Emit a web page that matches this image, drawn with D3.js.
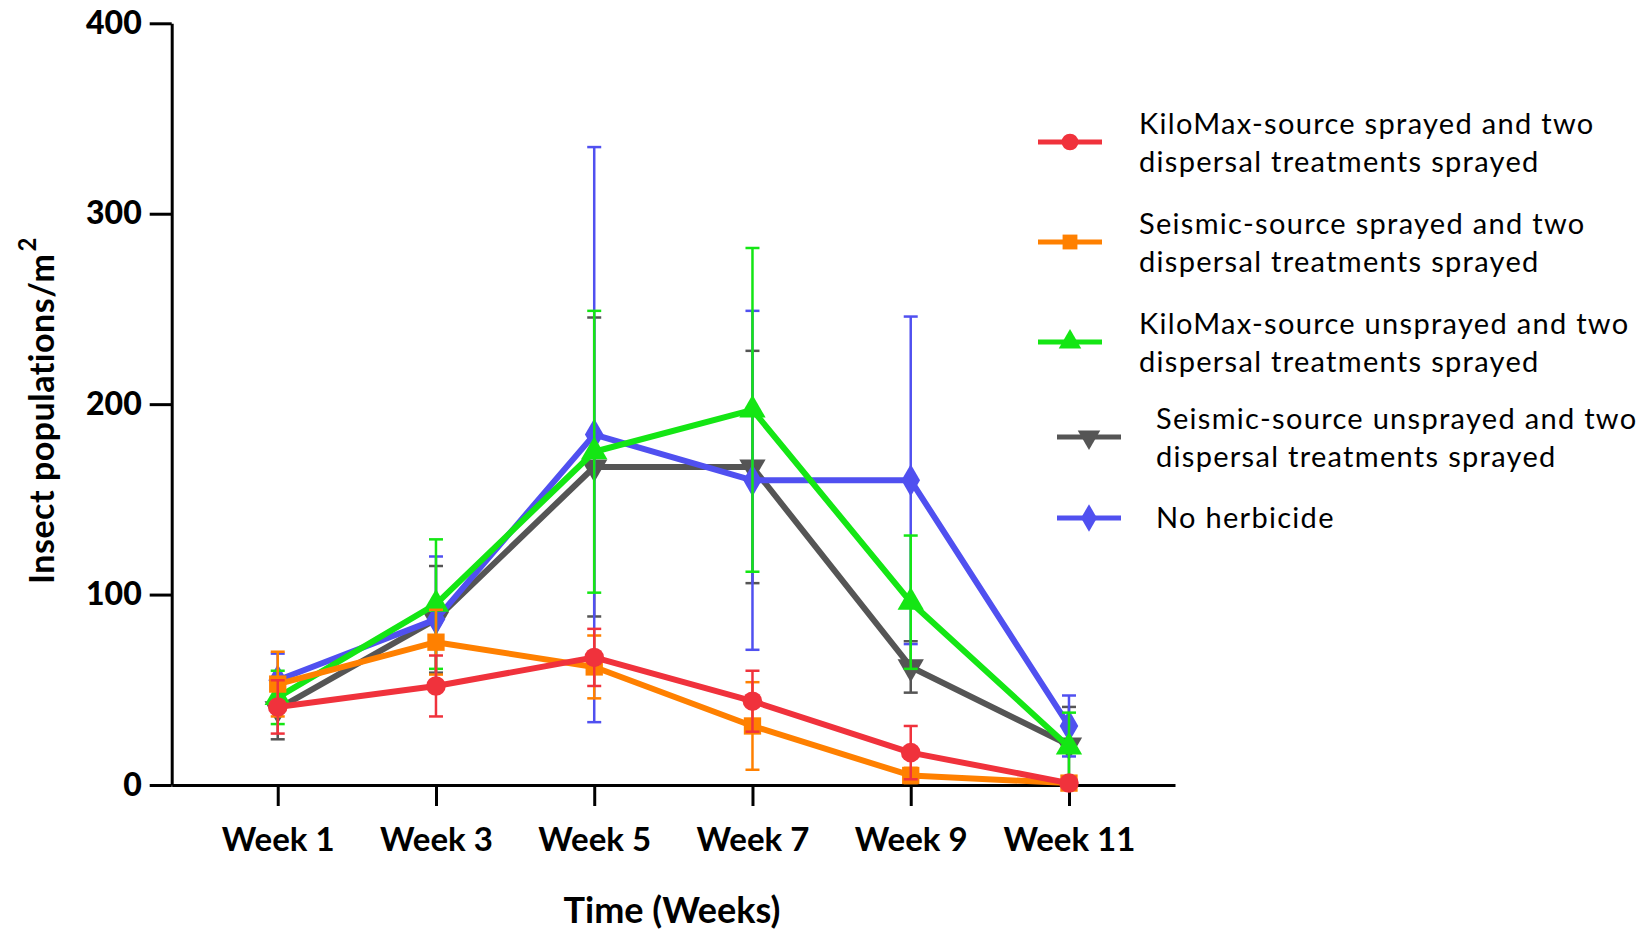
<!DOCTYPE html>
<html>
<head>
<meta charset="utf-8">
<script src="https://cdn.jsdelivr.net/npm/d3@7"></script>
<style>
  html, body { margin: 0; padding: 0; background: #ffffff; }
  svg { display: block; }
</style>
</head>
<body>
<svg id="chart" width="1643" height="931"></svg>
<script>
// Sampling weeks (x categories)
const weeks = ["Week 1", "Week 3", "Week 5", "Week 7", "Week 9", "Week 11"];

// Y axis ticks
const yTicks = [0, 100, 200, 300, 400];

// Treatment names (legend order)
const seriesNames = [
  ["KiloMax-source sprayed and two", "dispersal treatments sprayed"],
  ["Seismic-source sprayed and two", "dispersal treatments sprayed"],
  ["KiloMax-source unsprayed and two", "dispersal treatments sprayed"],
  ["Seismic-source unsprayed and two", "dispersal treatments sprayed"],
  ["No herbicide"]
];

// Mean insect populations per m² and error (±) for each treatment
const kiloSprayed      = [41, 52, 67, 44, 17, 1];
const kiloSprayedErr   = [14, 16, 15, 16, 14, 1];
const seisSprayed      = [53, 75, 62, 31, 5, 1];
const seisSprayedErr   = [17, 17, 16.5, 23, 4, 0.5];
const kiloUnsprayed    = [46, 95, 175, 197, 96, 20];
const kiloUnsprayedErr = [14, 34, 74, 85, 35, 18];
const seisUnsprayed    = [40, 87, 167, 167, 62, 21];
const seisUnsprayedErr = [16, 28, 78.5, 61, 13.5, 20];
const noHerbicide      = [55, 87, 184, 160, 160, 31];
const noHerbicideErr   = [14, 33, 151, 89, 86, 16];

const colors  = ["#f0323c", "#ff8000", "#14e614", "#555555", "#5050f0"];
const symbols = [d3.symbolCircle, d3.symbolSquare, d3.symbolTriangle, "down", d3.symbolDiamond];

const series = [
  { name: seriesNames[0], values: kiloSprayed,   errs: kiloSprayedErr,   color: colors[0], sym: symbols[0] },
  { name: seriesNames[1], values: seisSprayed,   errs: seisSprayedErr,   color: colors[1], sym: symbols[1] },
  { name: seriesNames[2], values: kiloUnsprayed, errs: kiloUnsprayedErr, color: colors[2], sym: symbols[2] },
  { name: seriesNames[3], values: seisUnsprayed, errs: seisUnsprayedErr, color: colors[3], sym: symbols[3] },
  { name: seriesNames[4], values: noHerbicide,   errs: noHerbicideErr,   color: colors[4], sym: symbols[4] }
];

const svg = d3.select("#chart");
const FONT = "Lato, 'DejaVu Sans', sans-serif";

const x = d3.scalePoint().domain(weeks).range([171.7, 1175]).padding(0.67);
const y = d3.scaleLinear().domain([0, 400]).range([785, 23.3]);

// Marker path generator ("down" = inverted triangle)
function markerPath(sym, size) {
  return d3.symbol().type(sym === "down" ? d3.symbolTriangle : sym).size(size)();
}
function markerTransform(sym, cx, cy) {
  return sym === "down" ? `translate(${cx},${cy}) rotate(180)` : `translate(${cx},${cy})`;
}

// Axes
const yAxis = svg.append("g")
  .attr("transform", `translate(${x.range()[0]},0)`)
  .call(d3.axisLeft(y).tickValues(yTicks).tickSize(22).tickSizeOuter(0).tickPadding(8));
yAxis.select(".domain").attr("stroke", "#000").attr("stroke-width", 3);
yAxis.selectAll(".tick line").attr("stroke", "#000").attr("stroke-width", 3);
yAxis.selectAll(".tick text")
  .attr("fill", "#000")
  .style("font-family", FONT)
  .style("font-weight", "900")
  .style("font-size", "32px");

const xAxis = svg.append("g")
  .attr("transform", `translate(0,${y(0)})`)
  .call(d3.axisBottom(x).tickSize(21).tickSizeOuter(0).tickPadding(22));
xAxis.select(".domain").attr("stroke", "#000").attr("stroke-width", 3);
xAxis.selectAll(".tick line").attr("stroke", "#000").attr("stroke-width", 3);
xAxis.selectAll(".tick text")
  .attr("fill", "#000")
  .style("font-family", FONT)
  .style("font-weight", "700")
  .style("font-size", "33px");

// Axis titles
const yTitle = svg.append("text")
  .attr("transform", `translate(54,584) rotate(-90)`)
  .style("font-family", FONT)
  .style("font-weight", "700")
  .style("font-size", "34px")
  .style("letter-spacing", "0.5px")
  .attr("fill", "#000");
yTitle.append("tspan").text("Insect populations/m");
yTitle.append("tspan").attr("dy", -18).attr("dx", 2).style("font-size", "24px").text("2");

svg.append("text")
  .attr("x", 672).attr("y", 923)
  .attr("text-anchor", "middle")
  .style("font-family", FONT)
  .style("font-weight", "700")
  .style("font-size", "36px")
  .attr("fill", "#000")
  .text("Time (Weeks)");

// Plot order: gray, blue, green, orange, red
const drawOrder = [3, 4, 2, 1, 0];

const line = d3.line().x((d, i) => x(weeks[i])).y(d => y(d));

drawOrder.forEach(si => {
  const s = series[si];
  const g = svg.append("g");
  // Error bars
  s.values.forEach((v, i) => {
    const cx = x(weeks[i]);
    const lo = y(Math.max(0, v - s.errs[i]));
    const hi = y(v + s.errs[i]);
    g.append("line").attr("x1", cx).attr("x2", cx).attr("y1", lo).attr("y2", hi)
      .attr("stroke", s.color).attr("stroke-width", 2.5);
    [lo, hi].forEach(yy => {
      g.append("line").attr("x1", cx - 7).attr("x2", cx + 7).attr("y1", yy).attr("y2", yy)
        .attr("stroke", s.color).attr("stroke-width", 2.5);
    });
  });
  // Line
  g.append("path").datum(s.values).attr("d", line)
    .attr("fill", "none").attr("stroke", s.color).attr("stroke-width", 6)
    .attr("stroke-linejoin", "round");
  // Markers
  s.values.forEach((v, i) => {
    g.append("path")
      .attr("d", markerPath(s.sym, 300))
      .attr("transform", markerTransform(s.sym, x(weeks[i]), y(v)))
      .attr("fill", s.color);
  });
});

// Legend
const legendRows = [
  { lx: 1038, ty: [134, 172], tx: 1139, sy: 142 },
  { lx: 1038, ty: [234, 272], tx: 1139, sy: 242 },
  { lx: 1038, ty: [334, 372], tx: 1139, sy: 342 },
  { lx: 1057, ty: [429, 467], tx: 1156, sy: 437 },
  { lx: 1057, ty: [528], tx: 1156, sy: 518 }
];
series.forEach((s, i) => {
  const r = legendRows[i];
  const g = svg.append("g");
  g.append("line").attr("x1", r.lx).attr("x2", r.lx + 64).attr("y1", r.sy).attr("y2", r.sy)
    .attr("stroke", s.color).attr("stroke-width", 5);
  g.append("path").attr("d", markerPath(s.sym, 220))
    .attr("transform", markerTransform(s.sym, r.lx + 32, r.sy))
    .attr("fill", s.color);
  s.name.forEach((t, j) => {
    g.append("text").attr("x", r.tx).attr("y", r.ty[j])
      .style("font-family", FONT)
      .style("font-size", "29px")
      .style("letter-spacing", "1.3px")
      .attr("fill", "#000")
      .text(t);
  });
});
</script>
</body>
</html>
